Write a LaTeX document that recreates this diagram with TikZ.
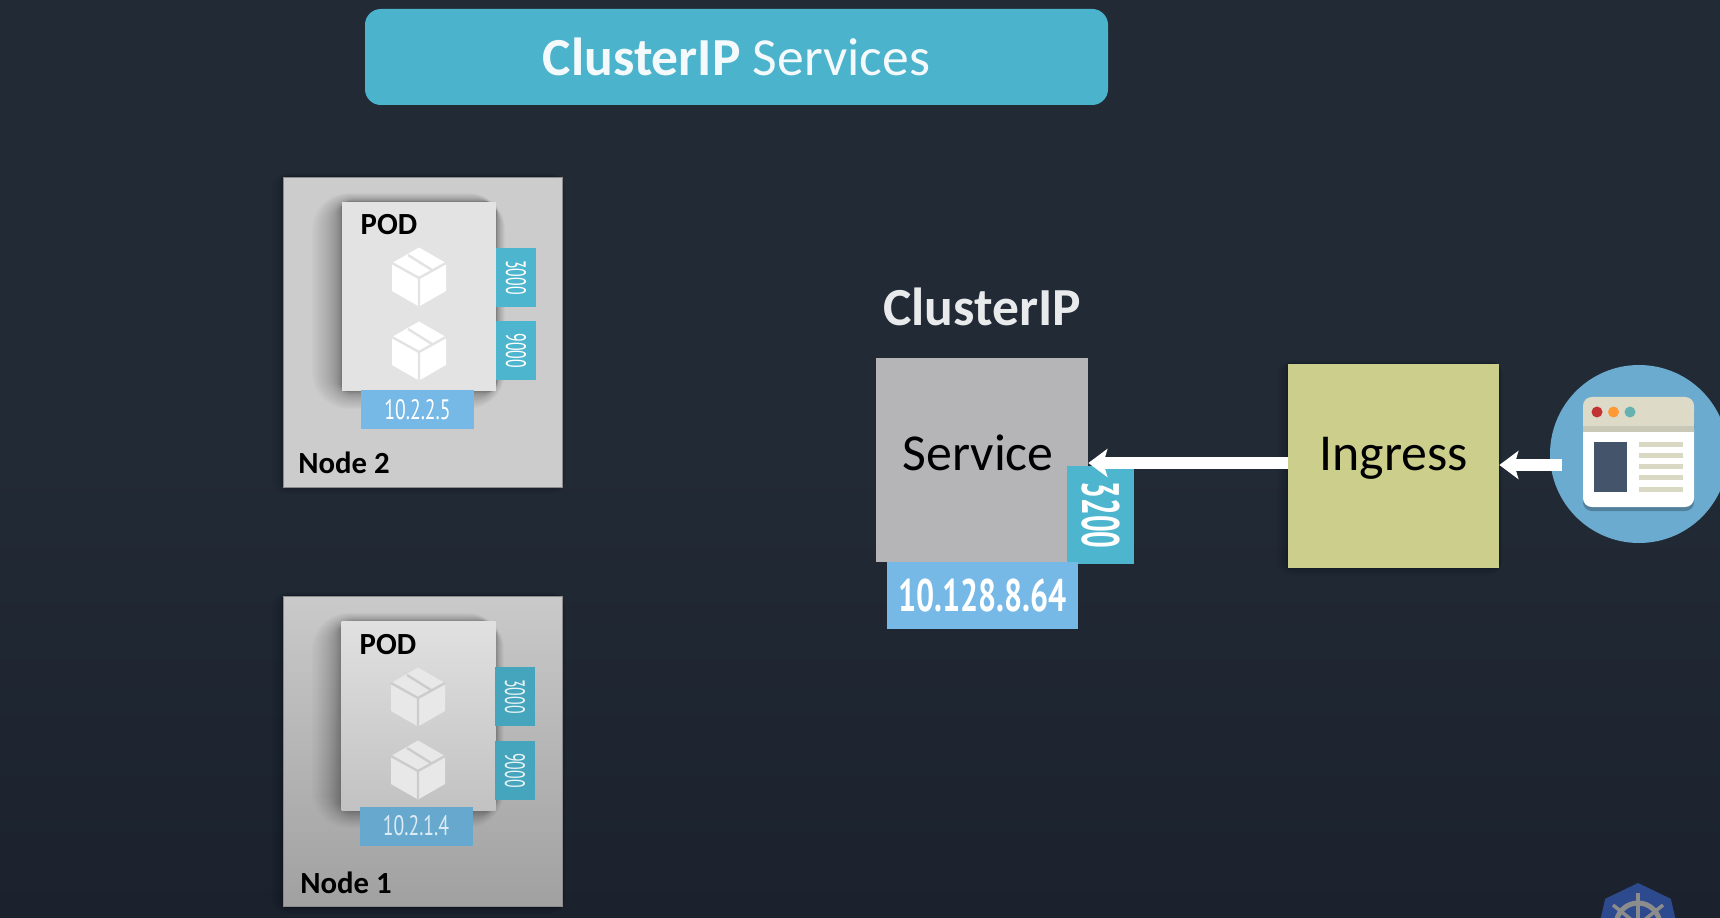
\documentclass[tikz,border=0pt]{standalone}
\usepackage{fontspec}
\setmainfont{Carlito}
\newfontfamily\portfont[FakeStretch=0.56]{PT Sans}
\newfontfamily\ipfont[FakeStretch=0.70]{PT Sans}
\usetikzlibrary{arrows.meta,positioning,shapes.geometric}
\usepackage{xcolor}

\definecolor{slatebg}{HTML}{222A36}
\definecolor{slatelow}{HTML}{1B222D}
\definecolor{titleteal}{HTML}{4BB3CB}
\definecolor{tagteal}{HTML}{4DB5CE}
\definecolor{tagdim}{HTML}{45A5BD}
\definecolor{ipblue}{HTML}{76B9E6}
\definecolor{ipdim}{HTML}{66A8CE}
\definecolor{servicegrey}{HTML}{B5B5B7}
\definecolor{ingressgreen}{HTML}{CBCF8B}
\definecolor{browserblue}{HTML}{6BABCF}
\definecolor{browsercream}{HTML}{DDDBC8}
\definecolor{browserband}{HTML}{C9C8B6}
\definecolor{browserpanel}{HTML}{44546A}
\definecolor{browserline}{HTML}{D9D8C3}
\definecolor{logoblue}{HTML}{2E4A8E}

\def\u{0.02cm}
\newcommand{\softshadow}[5][30]{%
  \foreach \r in {1,...,#1}
    \fill[black,opacity=0.017,rounded corners=\r*0.7pt] (#2-\r*\r/#1,#3-0.3*\r*\r/#1) rectangle (#4+0.3*\r*\r/#1,#5+0.6*\r*\r/#1);
}

\tikzset{
  plainbox/.style={rectangle, inner sep=0pt, text=black},
  workerbox/.style={plainbox, draw=black!45, line width=0.4pt, minimum width=279*\u, minimum height=310*\u},
  podbox/.style={plainbox, minimum width=154*\u, minimum height=189*\u},
  porttag/.style={plainbox, fill=tagteal, text=white, minimum width=40*\u, minimum height=59*\u, font=\portfont\fontsize{16}{18}\selectfont},
  iptag/.style={plainbox, fill=ipblue, text=white, minimum width=113*\u, minimum height=39*\u, font=\ipfont\fontsize{16}{18}\selectfont},
  smalllabel/.style={inner sep=0pt, text=black, font=\bfseries\fontsize{17.5}{20}\selectfont},
  biglabel/.style={inner sep=0pt, text=black, font=\fontsize{29.5}{32}\selectfont},
  flowarrow/.style={draw=white, line width=12*\u, -{Stealth[length=19*\u, width=28*\u, inset=4*\u]}},
  pics/cubeicon/.style={code={
    \fill[cubefill] (0,-29.5) -- (27,-14) -- (27,14) -- (0,29.5) -- (-27,14) -- (-27,-14) -- cycle;
    \draw[cubeline, line width=2.4*\u] (-27,-14) -- (0,1) -- (27,-14) (0,1) -- (0,29.5) (-11,-22) -- (13,-7);
  }}
}

\begin{document}
\begin{tikzpicture}[x=0.02cm, y=-0.02cm]
  \useasboundingbox (0,0) rectangle (1720,918);
  \shade[top color=slatebg, bottom color=slatelow, middle color=slatebg] (0,0) rectangle (1720,918);

  % title bar
  \node[plainbox, fill=titleteal, rounded corners=9pt, minimum width=743*\u, minimum height=96*\u] (titlebar) at (736.5,57) {};
  \node[inner sep=0pt, text=white!94!titleteal, font=\fontsize{30.5}{33}\selectfont] (titletext) at (titlebar) {\textbf{ClusterIP} Services};

  % node 2
  \softshadow[12]{283}{177}{562}{487}
  \node[workerbox, fill=white!80!black] (worker2) at (423,332) {};
  \softshadow{342}{202}{496}{391}
  \node[podbox, fill=white!89!black] (pod2) at (419,296.5) {};
  \node[smalllabel] (podtext2) at (389,225) {POD};
  \colorlet{cubefill}{white}\colorlet{cubeline}{white!89!black}
  \pic at (419,277) {cubeicon};
  \pic at (419,351) {cubeicon};
  \node[porttag] (port2a) at (516,277.5) {\rotatebox{-90}{3000}};
  \node[porttag] (port2b) at (516,351) {\rotatebox{-90}{9000}};
  \node[iptag] (ip2) at (417.5,409.5) {10.2.2.5};
  \node[smalllabel, anchor=west] (workertext2) at (298,463) {Node 2};

  % node 1
  \softshadow[12]{283}{596}{562}{907}
  \node[workerbox, top color=white!79!black, bottom color=white!63!black] (worker1) at (423,751.5) {};
  \softshadow{342}{622}{495}{810}
  \node[podbox, top color=white!88!black, bottom color=white!76!black] (pod1) at (418.5,716) {};
  \node[smalllabel] (podtext1) at (388,645) {POD};
  \colorlet{cubefill}{white!91!black}\colorlet{cubeline}{white!80!black}
  \pic at (418,697) {cubeicon};
  \pic at (418,770) {cubeicon};
  \node[porttag, fill=tagdim, text=white!88!tagdim] (port1a) at (515,696.5) {\rotatebox{-90}{3000}};
  \node[porttag, fill=tagdim, text=white!88!tagdim] (port1b) at (515,770.5) {\rotatebox{-90}{9000}};
  \node[iptag, fill=ipdim, text=white!78!ipdim] (ip1) at (416,826) {10.2.1.4};
  \node[smalllabel, anchor=west] (workertext1) at (300,883) {Node 1};

  % service
  \node[inner sep=0pt, text=white!90!slatebg, font=\fontsize{30.5}{33}\selectfont] (clusterip) at (982,307) {\textbf{ClusterIP}};
  \node[plainbox, fill=servicegrey, minimum width=212*\u, minimum height=204*\u] (service) at (982,460) {};
  \node[biglabel] (servicetext) at (978,453) {Service};
  \node[plainbox, fill=tagteal, text=white, minimum width=67*\u, minimum height=98*\u, font=\portfont\bfseries\fontsize{30}{32}\selectfont] (port) at (1100.5,515) {\rotatebox{-90}{3200}};
  \node[plainbox, fill=ipblue, text=white, minimum width=191*\u, minimum height=67*\u, font=\ipfont\bfseries\fontsize{26}{28}\selectfont] (clusterippt) at (982.5,595.5) {10.128.8.64};

  % ingress
  \softshadow[12]{1288}{364}{1499}{568}
  \node[plainbox, fill=ingressgreen, minimum width=211*\u, minimum height=204*\u] (ingress) at (1393.5,466) {};
  \node[biglabel] (ingresstext) at (1393.5,458) {Ingress};

  % browser
  \node[circle, fill=browserblue, inner sep=0pt, minimum size=178*\u] (browser) at (1639,454) {};
  \fill[black!25!browserblue, rounded corners=5pt] (1583,402) rectangle (1694,511);
  \fill[white, rounded corners=5pt] (1583,420) rectangle (1694,507);
  \fill[browsercream, rounded corners=5pt] (1583,397) rectangle (1694,432);
  \fill[browsercream] (1583,415) rectangle (1694,426);
  \fill[browserband] (1583,426) rectangle (1694,432);
  \fill[red!70!black!80!white] (1597,412) circle (5.5);
  \fill[orange!80!white] (1613.5,412) circle (5.5);
  \fill[teal!60!white] (1630,412) circle (5.5);
  \fill[browserpanel] (1594,442) rectangle (1627,492);
  \foreach \yy in {445,456,467,478,489}
    \fill[browserline] (1639,\yy-2.5) rectangle (1683,\yy+2.5);

  \draw[flowarrow] ([yshift=3*\u]ingress.west) -- (service.east |- 0,463);
  \coordinate (browserout) at (1562,465);
  \draw[flowarrow] (browserout) -- (ingress.east |- browserout);

  % logo
  \node[regular polygon, regular polygon sides=7, fill=logoblue, inner sep=0pt, minimum size=84*\u] (logo) at (1638,925) {};
  \draw[white!55!black, line width=5*\u] (logo.center) circle (22);
  \foreach \a in {0,1,...,6}
    \draw[white!55!black, line width=3.5*\u] (logo.center) -- ++({90+\a*360/7}:-32);
\end{tikzpicture}
\end{document}
